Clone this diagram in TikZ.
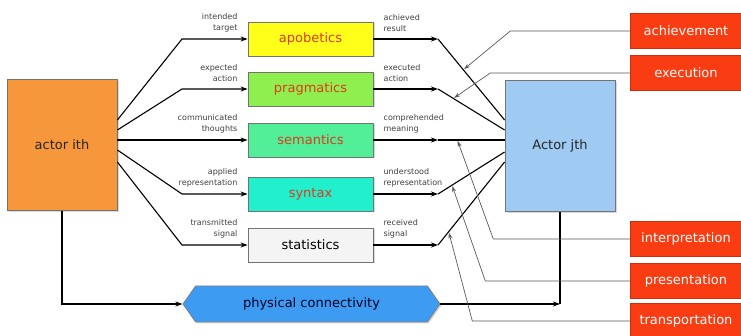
\documentclass[tikz,border=0pt]{standalone}
\usepackage{fontspec}
\setmainfont{DejaVu Sans}
\usetikzlibrary{positioning,calc,shapes.symbols,arrows.meta,shadows}

\definecolor{actororange}{HTML}{F5973A}
\definecolor{actorblue}{HTML}{9FCBF3}
\definecolor{apoyellow}{HTML}{FFFF1A}
\definecolor{pragreen}{HTML}{8FEF4F}
\definecolor{semgreen}{HTML}{52EE98}
\definecolor{syncyan}{HTML}{22EFCB}
\definecolor{statwhite}{HTML}{F4F4F4}
\definecolor{physblue}{HTML}{3D9CF2}
\definecolor{alarmred}{HTML}{FA3C12}
\definecolor{textred}{HTML}{DE3B1C}

\begin{document}
\begin{tikzpicture}[x=1pt, y=-1pt,
    bigfont/.style={font=\fontsize{13}{15}\selectfont},
    actor/.style={bigfont, draw=black!55, line width=0.8pt, minimum width=110pt, minimum height=131pt,
      text=black!85, drop shadow={opacity=0.3, shadow xshift=1.5pt, shadow yshift=-1.5pt}},
    layer/.style={bigfont, draw=black!55, line width=0.8pt, minimum width=125pt, minimum height=34pt,
      inner sep=0pt, text=textred, drop shadow={opacity=0.3, shadow xshift=1.5pt, shadow yshift=-1.5pt}},
    redbox/.style={bigfont, fill=alarmred, draw=alarmred!80!black, line width=0.4pt, text=white,
      minimum width=111pt, minimum height=35pt, inner sep=0pt},
    lblL/.style={font=\fontsize{8}{11}\selectfont, text=black!75, align=right, inner sep=1pt},
    lblR/.style={font=\fontsize{8}{11}\selectfont, text=black!75, align=left, inner sep=1pt},
    conn/.style={-{Stealth[length=7pt,width=5pt]}, line width=1.1pt},
    link/.style={line width=1.1pt},
    ptr/.style={-{Stealth[length=6pt,width=4pt]}, line width=0.7pt, draw=black!65, shorten >=1pt}]

        \useasboundingbox (0,0) rectangle (741,336);

        \node[actor, fill=actororange] (actI) at (62,145) {actor ith};
        \node[actor, fill=actorblue] (actJ) at (560,146) {Actor jth};

        \node[layer, fill=apoyellow] (apob) at (310.5,39) {apobetics};
        \node[layer, fill=pragreen] (prag) at (310.5,89) {pragmatics};
        \node[layer, fill=semgreen] (sema) at (310.5,140) {semantics};
        \node[layer, fill=syncyan] (synt) at (310.5,194) {syntax};
        \node[layer, fill=statwhite, text=black] (stat) at (310.5,245) {statistics};

        \node[bigfont, signal, signal to=west and east, signal pointer angle=110, draw=black!50,
          line width=0.8pt, fill=physblue, text=black!85!blue, minimum width=257pt,
          minimum height=36pt, inner sep=0pt,
          drop shadow={opacity=0.3, shadow xshift=1.5pt, shadow yshift=-1.5pt}] (phys) at (311.5,304) {physical connectivity};

        \node[redbox] (achv) at (686,31) {achievement};
        \node[redbox] (exec) at (686,73) {execution};
        \node[redbox] (intp) at (686,239) {interpretation};
        \node[redbox] (pres) at (686,281) {presentation};
        \node[redbox] (trsp) at (686,321) {transportation};

        \node[lblL, anchor=south east, above left=6pt and 9pt of apob.west] (tApob) {intended\\target};
        \node[lblL, anchor=south east, above left=6pt and 9pt of prag.west] (tPrag) {expected\\action};
        \node[lblL, anchor=south east, above left=6pt and 9pt of sema.west] (tSema) {communicated\\thoughts};
        \node[lblL, anchor=south east, above left=6pt and 9pt of synt.west] (tSynt) {applied\\representation};
        \node[lblL, anchor=south east, above left=6pt and 9pt of stat.west] (tStat) {transmitted\\signal};

        \node[lblR, above right=6pt and 9pt of apob.east] (rApob) {achieved\\result};
        \node[lblR, above right=6pt and 9pt of prag.east] (rPrag) {executed\\action};
        \node[lblR, above right=6pt and 9pt of sema.east] (rSema) {comprehended\\meaning};
        \node[lblR, above right=6pt and 9pt of synt.east] (rSynt) {understood\\representation};
        \node[lblR, above right=6pt and 9pt of stat.east] (rStat) {received\\signal};

        \coordinate (b1) at (182,39);
        \coordinate (b2) at (182,89);
        \coordinate (b4) at (182,194);
        \coordinate (b5) at (182,245);
        \coordinate (r1) at (438,39);
        \coordinate (r2) at (438,89);
        \coordinate (r3) at (438,140);
        \coordinate (r4) at (438,194);
        \coordinate (r5) at (438,245);
        \coordinate (j1) at ([yshift=26pt]actJ.west);
        \coordinate (j2) at ([yshift=16pt]actJ.west);
        \coordinate (j3) at (r3 -| actJ.west);
        \coordinate (j4) at ([yshift=-6pt]actJ.west);
        \coordinate (j5) at ([yshift=-16pt]actJ.west);
        \coordinate (cj) at (actJ.south |- phys.east);

        \draw[conn] ([yshift=25pt]actI.east) -- (b1) -- (apob.west);
        \draw[conn] ([yshift=15pt]actI.east) -- (b2) -- (prag.west);
        \draw[conn] ([yshift=5pt]actI.east) -- (sema.west);
        \draw[conn] ([yshift=-5pt]actI.east) -- (b4) -- (synt.west);
        \draw[conn] ([yshift=-17pt]actI.east) -- (b5) -- (stat.west);

        \draw[conn] (apob.east) -- (r1);
        \draw[conn] (prag.east) -- (r2);
        \draw[conn] (sema.east) -- (r3);
        \draw[conn] (synt.east) -- (r4);
        \draw[conn] (stat.east) -- (r5);
        \draw[link] (r1) -- (j1);
        \draw[link] (r2) -- (j2);
        \draw[link] (r3) -- (j3);
        \draw[link] (r4) -- (j4);
        \draw[link] (r5) -- (j5);

        \draw[conn] (actI.south) |- (phys.west);
        \draw[conn] (phys.east) -- (cj);
        \draw[link] (actJ.south) -- (cj);

        \draw[ptr] (achv.west) -- ++(-120,0) -- ($(r1)!0.38!(j1)$);
        \draw[ptr] (exec.west) -- ++(-140,0) -- ($(r2)!0.23!(j2)$);
        \draw[ptr] (intp.west) -- ++(-137,0) -- ($(r3)!0.29!(j3)$);
        \draw[ptr] (pres.west) -- ++(-145,0) -- ($(r4)!0.21!(j4)$);
        \draw[ptr] (trsp.west) -- ++(-158,0) -- ($(r5)!0.16!(j5)$);
      \end{tikzpicture}
\end{document}
